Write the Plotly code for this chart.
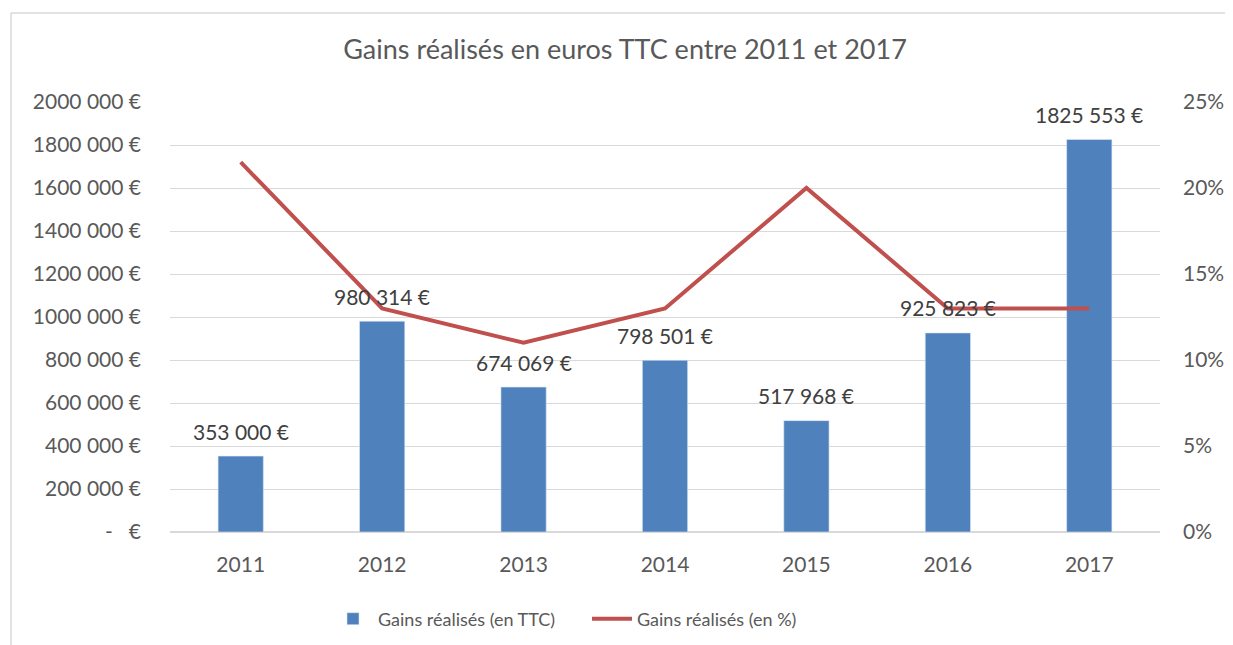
import plotly.graph_objects as go

# ---- data ----
years = ["2011", "2012", "2013", "2014", "2015", "2016", "2017"]
gains_ttc = [353000, 980314, 674069, 798501, 517968, 925823, 1825553]
gains_pct = [0.215, 0.13, 0.11, 0.13, 0.20, 0.13, 0.13]
left_tickvals = [0, 200000, 400000, 600000, 800000, 1000000, 1200000, 1400000, 1600000, 1800000, 2000000]
left_ticktext = ["-   €", "200 000 €", "400 000 €", "600 000 €", "800 000 €", "1000 000 €",
                 "1200 000 €", "1400 000 €", "1600 000 €", "1800 000 €", "2000 000 €"]
right_tickvals = [0, 0.05, 0.10, 0.15, 0.20, 0.25]
right_ticktext = ["0%", "5%", "10%", "15%", "20%", "25%"]

title_text = "Gains réalisés en euros TTC entre 2011 et 2017"
name_bar = "Gains réalisés (en TTC)"
name_line = "Gains réalisés (en %)"

BLUE = "#4F81BD"
RED = "#C0504D"
TXT = "#595959"
GRID = "#D9D9D9"
FONT = "Lato"

OFF = 8  # default page body margin
W, H = 1233 - OFF, 645 - OFF
ML, MT = 170 - OFF, 102 - OFF
MR = W - (1160 - OFF)
MB = H - (532 - OFF)


def fmt_eur(v):
    return f"{v // 1000} {v % 1000:03d} €"


fig = go.Figure()
fig.add_trace(go.Bar(
    x=years, y=gains_ttc, name=name_bar,
    marker=dict(color=BLUE, line=dict(color="#DCE6F2", width=0.6)),
    width=0.32, yaxis="y", hoverinfo="skip"))
fig.add_trace(go.Scatter(
    x=years, y=gains_pct, name=name_line, mode="lines", line=dict(color=RED, width=4),
    yaxis="y2", hoverinfo="skip"))

for i, v in enumerate(gains_ttc):
    fig.add_annotation(x=i, y=v, xref="x", yref="y", text=fmt_eur(v), showarrow=False,
                       yanchor="middle", yshift=25, font=dict(family=FONT, size=21, color="#404040"))

# frame (decoration)
pw = W - ML - MR
ph = H - MT - MB
def px_x(p):
    return (p - OFF - ML) / pw
def px_y(p):
    return (H + OFF - MB - p) / ph
fig.add_shape(type="line", xref="paper", yref="paper", x0=px_x(11), x1=px_x(1240), y0=px_y(13), y1=px_y(13),
              line=dict(color=GRID, width=1.5))
fig.add_shape(type="line", xref="paper", yref="paper", x0=px_x(11), x1=px_x(11), y0=px_y(13), y1=px_y(650),
              line=dict(color=GRID, width=1.5))

fig.update_layout(
    width=W, height=H,
    margin=dict(l=ML, r=MR, t=MT, b=MB, autoexpand=False),
    paper_bgcolor="white", plot_bgcolor="white",
    font=dict(family=FONT, color=TXT, size=21),
    title=dict(text=title_text, xref="container", x=(625 - OFF) / W, xanchor="center",
               yref="container", y=1 - (50 - OFF) / H, yanchor="middle",
               font=dict(family=FONT, size=27, color=TXT)),
    xaxis=dict(type="category", range=[-0.5, len(years) - 0.5], autorange=False,
               showgrid=False, showline=False, zeroline=False,
               ticks="", ticklabelstandoff=18, tickfont=dict(size=21, color=TXT)),
    yaxis=dict(range=[0, 2000000], tickvals=left_tickvals, ticktext=left_ticktext,
               showgrid=True, gridcolor=GRID, gridwidth=1.3, zeroline=True, zerolinecolor=GRID,
               zerolinewidth=2, showline=False, ticks="", ticklabelstandoff=28,
               tickfont=dict(size=21, color=TXT)),
    yaxis2=dict(range=[0, 0.25], tickvals=right_tickvals, ticktext=right_ticktext,
                overlaying="y", side="right", showgrid=False, zeroline=False, showline=False,
                ticks="", ticklabelstandoff=22, tickfont=dict(size=21, color=TXT)),
    showlegend=True,
    legend=dict(orientation="h", x=px_x(328), xanchor="left", y=px_y(619), yanchor="middle",
                font=dict(family=FONT, size=18, color=TXT), bgcolor="rgba(0,0,0,0)",
                itemwidth=40, tracegroupgap=0, entrywidth=204),
)

fig.write_html("out.html")
